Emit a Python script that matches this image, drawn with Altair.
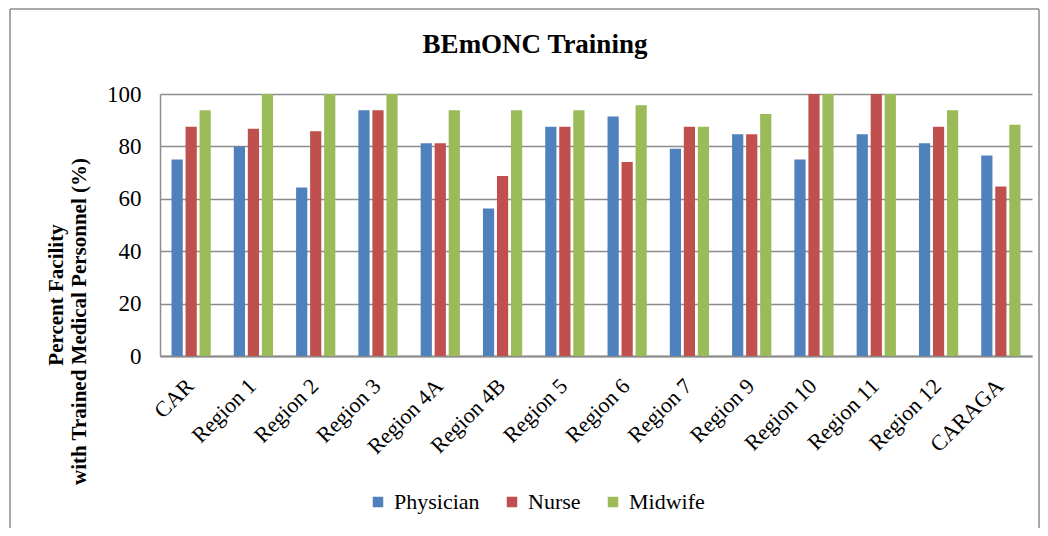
import altair as alt
import pandas as pd

regions = ["CAR", "Region 1", "Region 2", "Region 3", "Region 4A", "Region 4B", "Region 5",
           "Region 6", "Region 7", "Region 9", "Region 10", "Region 11", "Region 12", "CARAGA"]
physician = [75.0, 80.0, 64.3, 93.8, 81.2, 56.3, 87.5, 91.4, 79.1, 84.6, 75.0, 84.6, 81.2, 76.5]
nurse = [87.5, 86.7, 85.8, 93.8, 81.2, 68.7, 87.5, 74.0, 87.5, 84.6, 100.0, 100.0, 87.5, 64.7]
midwife = [93.8, 100.0, 100.0, 100.0, 93.8, 93.8, 93.8, 95.7, 87.5, 92.4, 100.0, 100.0, 93.8, 88.3]
series = ["Physician", "Nurse", "Midwife"]
colors = ["#4F81BD", "#C0504D", "#9BBB59"]
title_text = "BEmONC Training"
ytitle_line1 = "Percent Facility"
ytitle_line2 = "with Trained Medical Personnel (%)"

rows = []
for i, r in enumerate(regions):
    for s, vals in zip(series, [physician, nurse, midwife]):
        rows.append({"Region": r, "Staff": s, "Value": vals[i]})
df = pd.DataFrame(rows)

FONT = "Liberation Serif"

bars = alt.Chart(df).mark_bar().encode(
    x=alt.X("Region:N", sort=regions,
            scale=alt.Scale(paddingInner=0.37, paddingOuter=0.185),
            axis=alt.Axis(title=None, labelAngle=-45, labelFont=FONT, labelFontSize=22,
                          labelColor="#000", labelPadding=26, ticks=False,
                          domainColor="#8c8c8c", domainWidth=2, labelAlign="right",
                          labelBaseline="middle", labelOffset=-1)),
    xOffset=alt.XOffset("Staff:N", sort=series, scale=alt.Scale(paddingInner=0.2)),
    y=alt.Y("Value:Q", scale=alt.Scale(domain=[0, 100]),
            axis=alt.Axis(values=[0, 20, 40, 60, 80, 100], labelFont=FONT, labelFontSize=23,
                          labelColor="#000", labelPadding=19, ticks=False,
                          domainColor="#8c8c8c", domainWidth=1.5,
                          gridColor="#8c8c8c", gridWidth=1.5,
                          title=ytitle_line2,
                          titleFont=FONT, titleFontSize=21, titleFontWeight="bold",
                          titleColor="#000", titleX=-92, titleY=227,
                          titleAlign="center", titleBaseline="top")),
    color=alt.Color("Staff:N", sort=series, scale=alt.Scale(domain=series, range=colors),
                    legend=alt.Legend(title=None, orient="none", direction="horizontal",
                                      legendX=207, legendY=397, symbolType="square",
                                      symbolSize=110, symbolStrokeWidth=0,
                                      labelFont=FONT, labelFontSize=22, labelColor="#000",
                                      labelOffset=5, columnPadding=21)),
)

frame = pd.DataFrame({"a": [0]})
left = alt.Chart(frame).mark_rule(color="#8c8c8c", strokeWidth=1.5).encode(
    x=alt.value(-150), y=alt.value(-85), y2=alt.value(440))
top = alt.Chart(frame).mark_rule(color="#8c8c8c", strokeWidth=1.5).encode(
    x=alt.value(-150), x2=alt.value(879), y=alt.value(-85))
right = alt.Chart(frame).mark_rule(color="#8c8c8c", strokeWidth=1.5).encode(
    x=alt.value(879), y=alt.value(-85), y2=alt.value(440))
title = alt.Chart(pd.DataFrame({"t": [title_text]})).mark_text(
    font=FONT, fontSize=27, fontWeight="bold", color="#000", align="center",
    baseline="alphabetic").encode(text="t:N", x=alt.value(375), y=alt.value(-41))
ytitle1 = alt.Chart(pd.DataFrame({"t": [ytitle_line1]})).mark_text(
    font=FONT, fontSize=21, fontWeight="bold", color="#000", align="center",
    baseline="top", angle=270).encode(text="t:N", x=alt.value(-114), y=alt.value(201))

chart = alt.layer(bars, left, top, right, title, ytitle1).properties(
    width=872, height=262,
    autosize=alt.AutoSizeParams(type="none"),
    padding={"left": 152, "top": 86, "right": 8, "bottom": 172},
).configure(font=FONT).configure_view(stroke=None).configure_legend(
    labelFont=FONT, titleFont=FONT
).configure_axis(labelFont=FONT, titleFont=FONT)

chart.save("out.html", embed_options={"renderer": "svg", "actions": False})
